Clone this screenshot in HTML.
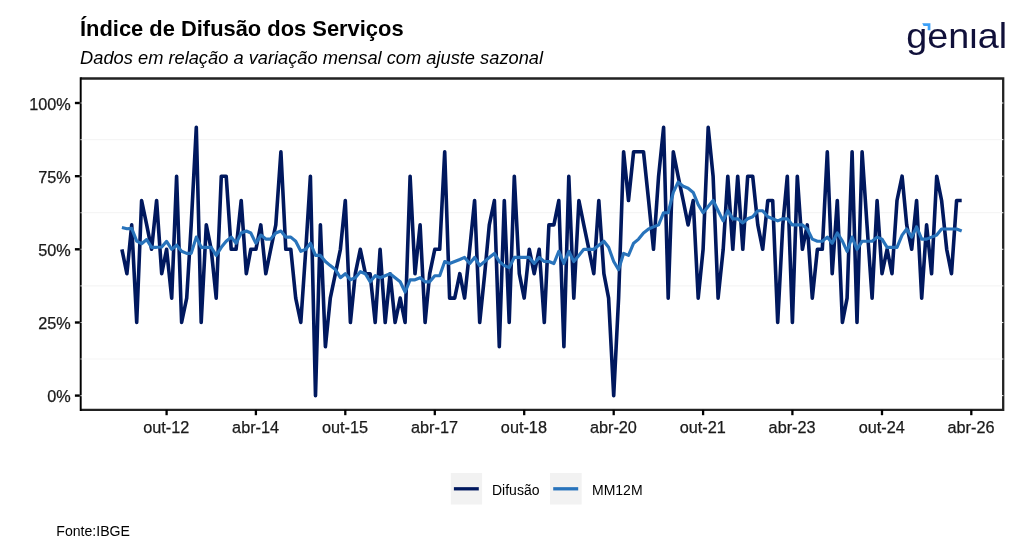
<!DOCTYPE html>
<html lang="pt-BR"><head><meta charset="utf-8"><title>Índice de Difusão dos Serviços</title>
<style>html,body{margin:0;padding:0;background:#fff}body{width:1024px;height:559px;overflow:hidden}svg{display:block}text{font-family:"Liberation Sans",Arial,Helvetica,sans-serif}</style></head><body>
<svg width="1024" height="559" viewBox="0 0 1024 559">
<rect width="1024" height="559" fill="#ffffff"/>
<text x="80.0" y="36.0" font-size="21.9" font-weight="700" fill="#000">Índice de Difusão dos Serviços</text>
<text x="80.1" y="64.4" font-size="18.27" font-style="italic" fill="#000">Dados em relação a variação mensal com ajuste sazonal</text>
<line x1="80.7" x2="1003.2" y1="359.0" y2="359.0" stroke="#f5f5f5" stroke-width="1.2"/>
<line x1="80.7" x2="1003.2" y1="285.9" y2="285.9" stroke="#f5f5f5" stroke-width="1.2"/>
<line x1="80.7" x2="1003.2" y1="212.7" y2="212.7" stroke="#f5f5f5" stroke-width="1.2"/>
<line x1="80.7" x2="1003.2" y1="139.6" y2="139.6" stroke="#f5f5f5" stroke-width="1.2"/>
<path d="M121.9,249.3 L126.9,273.7 L131.7,224.9 L136.7,322.5 L141.6,200.5 L146.7,224.9 L151.6,249.3 L156.6,200.5 L161.7,273.7 L166.6,249.3 L171.7,298.1 L176.6,176.2 L181.6,322.5 L186.7,298.1 L191.2,224.9 L196.3,127.4 L201.2,322.5 L206.3,224.9 L211.2,249.3 L216.2,298.1 L221.3,176.2 L226.2,176.2 L231.2,249.3 L236.1,249.3 L241.2,200.5 L246.3,273.7 L250.8,249.3 L255.9,249.3 L260.8,224.9 L265.8,273.7 L270.7,249.3 L275.8,224.9 L280.9,151.8 L285.8,249.3 L290.8,249.3 L295.7,298.1 L300.8,322.5 L305.8,249.3 L310.4,176.2 L315.5,395.6 L320.4,224.9 L325.4,346.8 L330.3,298.1 L335.4,273.7 L340.4,249.3 L345.3,200.5 L350.4,322.5 L355.3,273.7 L360.3,249.3 L365.4,273.7 L370.1,273.7 L375.2,322.5 L380.1,249.3 L385.2,322.5 L390.1,273.7 L395.1,322.5 L400.2,298.1 L405.1,322.5 L410.1,176.2 L415.0,273.7 L420.1,224.9 L425.1,322.5 L429.7,273.7 L434.8,249.3 L439.7,249.3 L444.7,151.8 L449.6,298.1 L454.7,298.1 L459.8,273.7 L464.6,298.1 L469.7,249.3 L474.6,200.5 L479.7,322.5 L484.7,273.7 L489.3,224.9 L494.4,200.5 L499.3,346.8 L504.3,200.5 L509.2,322.5 L514.3,176.2 L519.3,273.7 L524.2,298.1 L529.3,249.3 L534.2,273.7 L539.2,249.3 L544.3,322.5 L548.9,224.9 L553.9,224.9 L558.8,200.5 L563.9,346.8 L568.8,176.2 L573.8,298.1 L578.9,200.5 L583.8,224.9 L588.9,249.3 L593.8,273.7 L598.8,200.5 L603.9,273.7 L608.6,298.1 L613.7,395.6 L618.6,298.1 L623.6,151.8 L628.5,200.5 L633.6,151.8 L638.6,151.8 L643.5,151.8 L648.6,200.5 L653.5,249.3 L658.6,176.2 L663.6,127.4 L668.2,298.1 L673.3,151.8 L678.1,176.2 L683.2,200.5 L688.1,224.9 L693.2,200.5 L698.2,298.1 L703.1,249.3 L708.2,127.4 L713.1,176.2 L718.1,298.1 L723.2,249.3 L727.8,176.2 L732.8,249.3 L737.7,176.2 L742.8,249.3 L747.7,176.2 L752.7,176.2 L757.8,224.9 L762.7,249.3 L767.8,200.5 L772.7,200.5 L777.7,322.5 L782.8,224.9 L787.3,176.2 L792.4,322.5 L797.3,176.2 L802.4,249.3 L807.3,224.9 L812.3,298.1 L817.4,249.3 L822.3,249.3 L827.3,151.8 L832.2,273.7 L837.3,200.5 L842.4,322.5 L847.1,298.1 L852.1,151.8 L857.0,322.5 L862.1,151.8 L867.0,224.9 L872.1,298.1 L877.1,200.5 L882.0,273.7 L887.1,249.3 L892.0,273.7 L897.0,200.5 L902.1,176.2 L906.7,224.9 L911.7,249.3 L916.6,200.5 L921.7,298.1 L926.6,224.9 L931.6,273.7 L936.7,176.2 L941.6,200.5 L946.7,249.3 L951.5,273.7 L956.6,200.5 L961.7,200.5" fill="none" stroke="#00185e" stroke-width="3.6" stroke-linejoin="round" stroke-linecap="butt"/>
<path d="M121.9,227.5 L126.9,228.7 L131.7,228.4 L136.7,241.1 L141.6,243.7 L146.7,239.6 L151.6,247.3 L156.6,247.3 L161.7,247.0 L166.6,241.4 L171.7,249.3 L176.6,245.2 L181.6,251.3 L186.7,253.4 L191.2,253.4 L196.3,237.1 L201.2,247.3 L206.3,247.3 L211.2,247.3 L216.2,255.4 L221.3,247.3 L226.2,241.2 L231.2,237.1 L236.1,243.2 L241.2,233.0 L246.3,231.0 L250.8,233.0 L255.9,243.2 L260.8,235.1 L265.8,239.1 L270.7,239.1 L275.8,233.0 L280.9,231.0 L285.8,237.1 L290.8,237.1 L295.7,241.2 L300.8,251.3 L305.8,249.3 L310.4,243.2 L315.5,255.4 L320.4,255.4 L325.4,261.5 L330.3,265.6 L335.4,269.6 L340.4,277.7 L345.3,273.7 L350.4,279.8 L355.3,277.7 L360.3,271.7 L365.4,273.7 L370.1,281.8 L375.2,275.7 L380.1,277.7 L385.2,275.7 L390.1,273.7 L395.1,277.7 L400.2,281.8 L405.1,292.0 L410.1,279.8 L415.0,279.8 L420.1,277.7 L425.1,281.8 L429.7,281.8 L434.8,275.7 L439.7,275.7 L444.7,261.5 L449.6,263.5 L454.7,261.5 L459.8,259.5 L464.6,257.4 L469.7,263.5 L474.6,257.4 L479.7,265.6 L484.7,261.5 L489.3,257.4 L494.4,253.4 L499.3,261.5 L504.3,265.6 L509.2,267.6 L514.3,257.4 L519.3,257.4 L524.2,257.4 L529.3,257.4 L534.2,263.5 L539.2,257.4 L544.3,261.5 L548.9,261.5 L553.9,263.5 L558.8,251.3 L563.9,263.5 L568.8,251.3 L573.8,261.5 L578.9,255.4 L583.8,249.3 L588.9,249.3 L593.8,249.3 L598.8,245.2 L603.9,241.2 L608.6,247.3 L613.7,261.5 L618.6,269.6 L623.6,253.4 L628.5,255.4 L633.6,243.2 L638.6,239.1 L643.5,233.0 L648.6,229.0 L653.5,226.9 L658.6,224.9 L663.6,212.7 L668.2,212.7 L673.3,192.4 L678.1,182.2 L683.2,186.3 L688.1,188.3 L693.2,192.4 L698.2,204.6 L703.1,212.7 L708.2,206.6 L713.1,200.5 L718.1,210.7 L723.2,220.9 L727.8,210.7 L732.8,218.8 L737.7,218.8 L742.8,222.9 L747.7,218.8 L752.7,216.8 L757.8,210.7 L762.7,210.7 L767.8,216.8 L772.7,218.8 L777.7,220.9 L782.8,218.8 L787.3,218.8 L792.4,224.9 L797.3,224.9 L802.4,224.9 L807.3,229.0 L812.3,239.1 L817.4,241.2 L822.3,241.2 L827.3,237.1 L832.2,243.2 L837.3,233.0 L842.4,241.2 L847.1,251.3 L852.1,237.1 L857.0,249.3 L862.1,241.2 L867.0,241.2 L872.1,241.2 L877.1,237.1 L882.0,239.1 L887.1,247.3 L892.0,247.3 L897.0,247.3 L902.1,235.1 L906.7,229.0 L911.7,237.1 L916.6,226.9 L921.7,239.1 L926.6,239.1 L931.6,237.1 L936.7,235.1 L941.6,229.0 L946.7,229.0 L951.5,229.0 L956.6,229.0 L961.7,231.0" fill="none" stroke="#2873bb" stroke-width="3.15" stroke-linejoin="round" stroke-linecap="butt"/>
<path d="M80.70,78.50 H1003.20 V409.95 H80.70" fill="none" stroke="#222222" stroke-width="2.3" stroke-linejoin="miter"/>
<line x1="80.70" x2="80.70" y1="77.35" y2="411.10" stroke="#000" stroke-width="1.95"/>
<line x1="1001.9" x2="1003.4" y1="395.6" y2="395.6" stroke="#ffffff" stroke-width="1.1" stroke-opacity="0.85"/>
<line x1="80.4" x2="81.9" y1="395.6" y2="395.6" stroke="#ffffff" stroke-width="1.1" stroke-opacity="0.7"/>
<line x1="1001.9" x2="1003.4" y1="359.0" y2="359.0" stroke="#ffffff" stroke-width="1.1" stroke-opacity="0.85"/>
<line x1="80.4" x2="81.9" y1="359.0" y2="359.0" stroke="#ffffff" stroke-width="1.1" stroke-opacity="0.7"/>
<line x1="1001.9" x2="1003.4" y1="322.5" y2="322.5" stroke="#ffffff" stroke-width="1.1" stroke-opacity="0.85"/>
<line x1="80.4" x2="81.9" y1="322.5" y2="322.5" stroke="#ffffff" stroke-width="1.1" stroke-opacity="0.7"/>
<line x1="1001.9" x2="1003.4" y1="285.9" y2="285.9" stroke="#ffffff" stroke-width="1.1" stroke-opacity="0.85"/>
<line x1="80.4" x2="81.9" y1="285.9" y2="285.9" stroke="#ffffff" stroke-width="1.1" stroke-opacity="0.7"/>
<line x1="1001.9" x2="1003.4" y1="249.3" y2="249.3" stroke="#ffffff" stroke-width="1.1" stroke-opacity="0.85"/>
<line x1="80.4" x2="81.9" y1="249.3" y2="249.3" stroke="#ffffff" stroke-width="1.1" stroke-opacity="0.7"/>
<line x1="1001.9" x2="1003.4" y1="212.7" y2="212.7" stroke="#ffffff" stroke-width="1.1" stroke-opacity="0.85"/>
<line x1="80.4" x2="81.9" y1="212.7" y2="212.7" stroke="#ffffff" stroke-width="1.1" stroke-opacity="0.7"/>
<line x1="1001.9" x2="1003.4" y1="176.2" y2="176.2" stroke="#ffffff" stroke-width="1.1" stroke-opacity="0.85"/>
<line x1="80.4" x2="81.9" y1="176.2" y2="176.2" stroke="#ffffff" stroke-width="1.1" stroke-opacity="0.7"/>
<line x1="1001.9" x2="1003.4" y1="139.6" y2="139.6" stroke="#ffffff" stroke-width="1.1" stroke-opacity="0.85"/>
<line x1="80.4" x2="81.9" y1="139.6" y2="139.6" stroke="#ffffff" stroke-width="1.1" stroke-opacity="0.7"/>
<line x1="1001.9" x2="1003.4" y1="103.0" y2="103.0" stroke="#ffffff" stroke-width="1.1" stroke-opacity="0.85"/>
<line x1="80.4" x2="81.9" y1="103.0" y2="103.0" stroke="#ffffff" stroke-width="1.1" stroke-opacity="0.7"/>
<line x1="74.9" x2="79.8" y1="103.0" y2="103.0" stroke="#000" stroke-width="2.4"/>
<text x="70.7" y="109.5" font-size="16.25" text-anchor="end" fill="#1a1a1a" stroke="#1a1a1a" stroke-width="0.25">100%</text>
<line x1="74.9" x2="79.8" y1="176.2" y2="176.2" stroke="#000" stroke-width="2.4"/>
<text x="70.7" y="182.7" font-size="16.25" text-anchor="end" fill="#1a1a1a" stroke="#1a1a1a" stroke-width="0.25">75%</text>
<line x1="74.9" x2="79.8" y1="249.3" y2="249.3" stroke="#000" stroke-width="2.4"/>
<text x="70.7" y="255.8" font-size="16.25" text-anchor="end" fill="#1a1a1a" stroke="#1a1a1a" stroke-width="0.25">50%</text>
<line x1="74.9" x2="79.8" y1="322.5" y2="322.5" stroke="#000" stroke-width="2.4"/>
<text x="70.7" y="329.0" font-size="16.25" text-anchor="end" fill="#1a1a1a" stroke="#1a1a1a" stroke-width="0.25">25%</text>
<line x1="74.9" x2="79.8" y1="395.6" y2="395.6" stroke="#000" stroke-width="2.4"/>
<text x="70.7" y="402.1" font-size="16.25" text-anchor="end" fill="#1a1a1a" stroke="#1a1a1a" stroke-width="0.25">0%</text>
<line x1="166.6" x2="166.6" y1="409.9" y2="415.2" stroke="#000" stroke-width="2.3"/>
<text x="166.3" y="432.7" font-size="16.25" text-anchor="middle" fill="#1a1a1a" stroke="#1a1a1a" stroke-width="0.25">out-12</text>
<line x1="255.9" x2="255.9" y1="409.9" y2="415.2" stroke="#000" stroke-width="2.3"/>
<text x="255.6" y="432.7" font-size="16.25" text-anchor="middle" fill="#1a1a1a" stroke="#1a1a1a" stroke-width="0.25">abr-14</text>
<line x1="345.3" x2="345.3" y1="409.9" y2="415.2" stroke="#000" stroke-width="2.3"/>
<text x="345.0" y="432.7" font-size="16.25" text-anchor="middle" fill="#1a1a1a" stroke="#1a1a1a" stroke-width="0.25">out-15</text>
<line x1="434.8" x2="434.8" y1="409.9" y2="415.2" stroke="#000" stroke-width="2.3"/>
<text x="434.5" y="432.7" font-size="16.25" text-anchor="middle" fill="#1a1a1a" stroke="#1a1a1a" stroke-width="0.25">abr-17</text>
<line x1="524.2" x2="524.2" y1="409.9" y2="415.2" stroke="#000" stroke-width="2.3"/>
<text x="523.9" y="432.7" font-size="16.25" text-anchor="middle" fill="#1a1a1a" stroke="#1a1a1a" stroke-width="0.25">out-18</text>
<line x1="613.7" x2="613.7" y1="409.9" y2="415.2" stroke="#000" stroke-width="2.3"/>
<text x="613.4" y="432.7" font-size="16.25" text-anchor="middle" fill="#1a1a1a" stroke="#1a1a1a" stroke-width="0.25">abr-20</text>
<line x1="703.1" x2="703.1" y1="409.9" y2="415.2" stroke="#000" stroke-width="2.3"/>
<text x="702.8" y="432.7" font-size="16.25" text-anchor="middle" fill="#1a1a1a" stroke="#1a1a1a" stroke-width="0.25">out-21</text>
<line x1="792.4" x2="792.4" y1="409.9" y2="415.2" stroke="#000" stroke-width="2.3"/>
<text x="792.1" y="432.7" font-size="16.25" text-anchor="middle" fill="#1a1a1a" stroke="#1a1a1a" stroke-width="0.25">abr-23</text>
<line x1="882.0" x2="882.0" y1="409.9" y2="415.2" stroke="#000" stroke-width="2.3"/>
<text x="881.7" y="432.7" font-size="16.25" text-anchor="middle" fill="#1a1a1a" stroke="#1a1a1a" stroke-width="0.25">out-24</text>
<line x1="971.3" x2="971.3" y1="409.9" y2="415.2" stroke="#000" stroke-width="2.3"/>
<text x="971.0" y="432.7" font-size="16.25" text-anchor="middle" fill="#1a1a1a" stroke="#1a1a1a" stroke-width="0.25">abr-26</text>
<rect x="450.8" y="473" width="31.3" height="31.5" fill="#f2f2f2"/>
<line x1="453.9" x2="478.8" y1="488.8" y2="488.8" stroke="#00185e" stroke-width="3.3"/>
<text x="492" y="494.8" font-size="14" fill="#000">Difusão</text>
<rect x="550" y="473" width="31.7" height="31.5" fill="#f2f2f2"/>
<line x1="553.2" x2="578.2" y1="488.8" y2="488.8" stroke="#2873bb" stroke-width="3.3"/>
<text x="592" y="494.8" font-size="14" fill="#000">MM12M</text>
<text x="56.3" y="536.4" font-size="14.1" fill="#000">Fonte:IBGE</text>
<text transform="translate(906.3,48.1) scale(1.085,1)" x="0" y="0" font-size="34.8" fill="#10103a">genial</text>
<rect x="966" y="17" width="11.5" height="9.8" fill="#ffffff"/>
<path d="M922.2,23.3 H930.4 V30.3 H927.7 V26 H923.6 Z" fill="#3b9ff7"/>
</svg></body></html>
